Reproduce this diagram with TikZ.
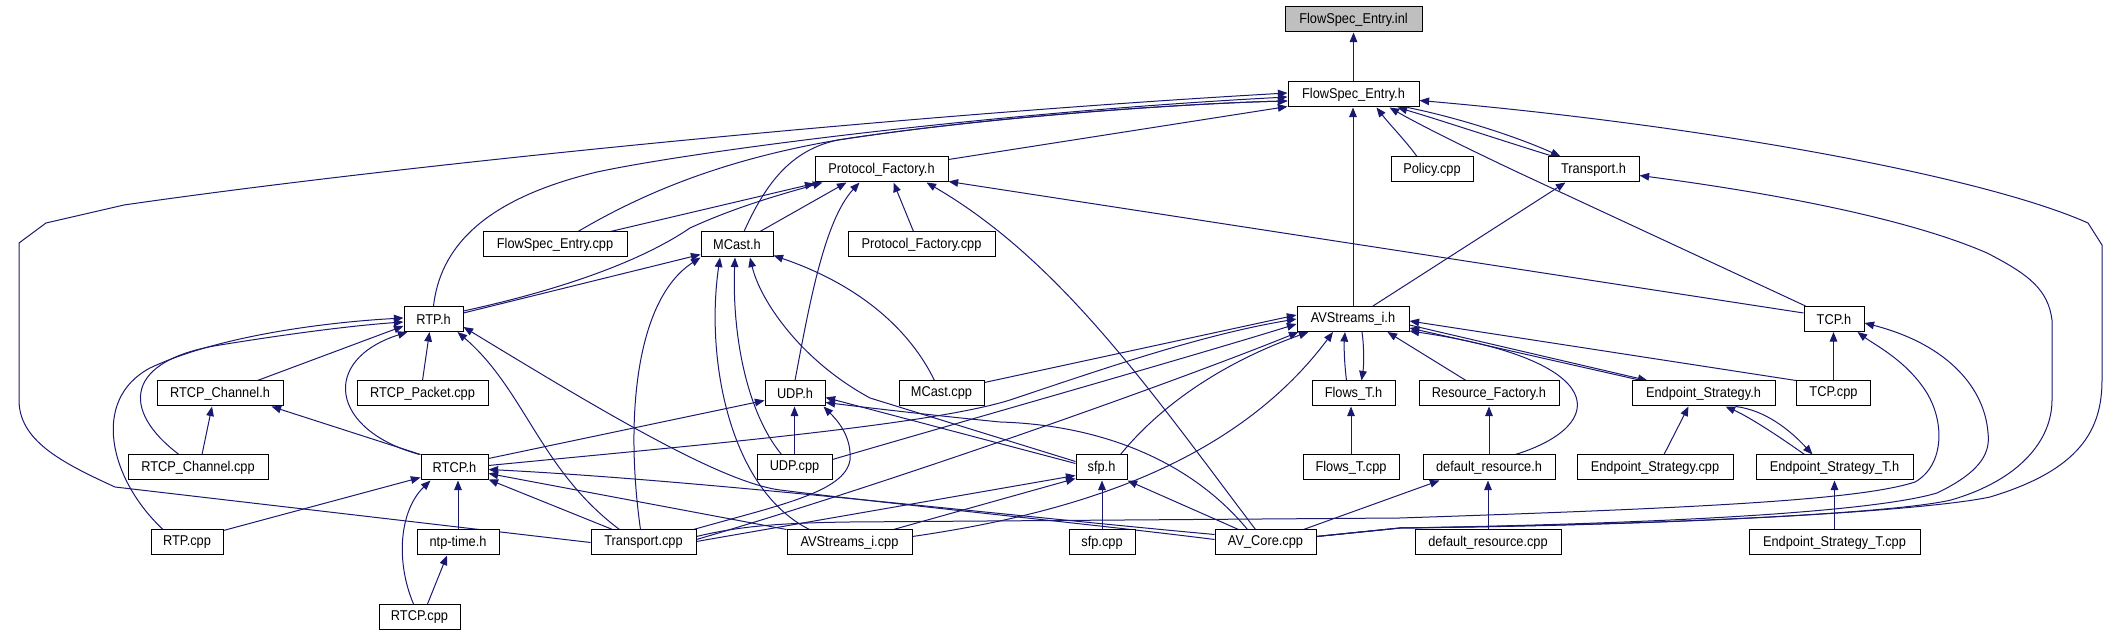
\documentclass[tikz,border=0pt]{standalone}
\usepackage{fontspec}
\setmainfont{Liberation Sans}[FakeStretch=0.9]
\usetikzlibrary{arrows.meta,calc}
\definecolor{edgeblue}{HTML}{191970}
\definecolor{rootgray}{HTML}{BFBFBF}
\pgfdeclarelayer{edgelayer}
\pgfsetlayers{edgelayer,main}
\tikzset{
  nbox/.style={draw=black, line width=0.5pt, fill=white, minimum height=12.5pt,
    minimum width=#1*0.5pt, inner sep=0pt, font=\fontsize{7.1pt}{8pt}\selectfont},
  dep/.style={draw=edgeblue, line width=0.5pt, -{Triangle[length=4.8pt,width=3.8pt]}},
}
\begin{document}
\begin{tikzpicture}[x=0.5pt,y=-0.5pt]
\useasboundingbox (0,0) rectangle (2121,635);
% ---------- nodes ----------
\node[nbox=137, fill=rootgray] (inl) at (1353.5,19.5) {FlowSpec\_Entry.inl};
\node[nbox=131] (fseh) at (1353.5,94.5) {FlowSpec\_Entry.h};
\node[nbox=133] (pfh) at (881.5,169.5) {Protocol\_Factory.h};
\node[nbox=82] (policy) at (1432,169.5) {Policy.cpp};
\node[nbox=91] (transh) at (1593.5,169.5) {Transport.h};
\node[nbox=144] (fsecpp) at (555,244.5) {FlowSpec\_Entry.cpp};
\node[nbox=72] (mcasth) at (737,244.5) {MCast.h};
\node[nbox=147] (pfcpp) at (921.5,244.5) {Protocol\_Factory.cpp};
\node[nbox=59] (rtph) at (433.5,319) {RTP.h};
\node[nbox=112] (avsih) at (1353,319) {AVStreams\_i.h};
\node[nbox=60] (tcph) at (1834,319) {TCP.h};
\node[nbox=126] (rtcpchh) at (220,393.5) {RTCP\_Channel.h};
\node[nbox=131] (rtcppkt) at (422.5,393.5) {RTCP\_Packet.cpp};
\node[nbox=60] (udph) at (795,393.5) {UDP.h};
\node[nbox=85] (mcastcpp) at (941.5,393.5) {MCast.cpp};
\node[nbox=83] (flowsh) at (1353.5,393.5) {Flows\_T.h};
\node[nbox=140] (resfh) at (1489,393.5) {Resource\_Factory.h};
\node[nbox=143] (esh) at (1703.5,393.5) {Endpoint\_Strategy.h};
\node[nbox=74] (tcpcpp) at (1833.5,393.5) {TCP.cpp};
\node[nbox=140] (rtcpchcpp) at (198,467.5) {RTCP\_Channel.cpp};
\node[nbox=67] (rtcph) at (454.5,467.5) {RTCP.h};
\node[nbox=75] (udpcpp) at (794.5,467.5) {UDP.cpp};
\node[nbox=51] (sfph) at (1101.5,467.5) {sfp.h};
\node[nbox=96] (flowscpp) at (1351,467.5) {Flows\_T.cpp};
\node[nbox=132] (drh) at (1489,467.5) {default\_resource.h};
\node[nbox=156] (escpp) at (1655,467.5) {Endpoint\_Strategy.cpp};
\node[nbox=157] (estah) at (1834.5,467.5) {Endpoint\_Strategy\_T.h};
\node[nbox=72] (rtpcpp) at (187,542.5) {RTP.cpp};
\node[nbox=82] (ntph) at (458,542.5) {ntp-time.h};
\node[nbox=105] (transcpp) at (643.5,542.5) {Transport.cpp};
\node[nbox=125] (avsicpp) at (849.5,542.5) {AVStreams\_i.cpp};
\node[nbox=66] (sfpcpp) at (1102,542.5) {sfp.cpp};
\node[nbox=101] (avcore) at (1265.5,542.5) {AV\_Core.cpp};
\node[nbox=146] (drcpp) at (1488,542.5) {default\_resource.cpp};
\node[nbox=171] (estcpp) at (1834.5,542.5) {Endpoint\_Strategy\_T.cpp};
\node[nbox=81] (rtcpcpp) at (419.5,617) {RTCP.cpp};
% ---------- edges ----------
\begin{pgfonlayer}{edgelayer}
% into FlowSpec_Entry.inl / .h
\draw[dep] (fseh.north) -- (fseh.north |- inl.south);
\draw[dep] (transcpp.west) -- (115,487) .. controls (60,462) and (19,440) .. (19,400) -- (19,243) -- (46,223) -- (124,205) .. controls (400,165) and (900,115) .. ($(fseh.west)+(0,-1.5)$);
\draw[dep] (rtph.north) .. controls (440,250) and (480,200) .. (597,172) .. controls (700,150) and (1000,112) .. ($(fseh.west)+(0,2.5)$);
\draw[dep] ($(fsecpp.north)+(23,0)$) .. controls (640,195) and (720,160) .. (838,140) .. controls (1000,115) and (1200,103) .. ($(fseh.west)+(0,6.5)$);
\draw[dep] ($(mcasth.north)+(7,0)$) .. controls (765,185) and (790,150) .. (838,140) .. controls (1000,115) and (1200,103) .. ($(fseh.west)+(0,6.5)$);
\draw[dep] ($(pfh.north east)+(0,3)$) -- ($(fseh.south west)+(0,-1)$);
\draw[dep] (avsih.north) -- (avsih.north |- fseh.south);
\draw[dep] ($(policy.north)+(-15,0)$) .. controls (1405,140) and (1390,125) .. ($(fseh.south)+(23,0)$);
\draw[dep] ($(transh.north)+(-40,0)$) .. controls (1500,140) and (1440,120) .. ($(fseh.south)+(44,0)$);
\draw[dep] ($(fseh.south)+(54,0)$) .. controls (1460,118) and (1520,138) .. ($(transh.north)+(-33,0)$);
\draw[dep] ($(tcph.north west)+(2,0)$) -- (1530,178) .. controls (1470,150) and (1420,125) .. ($(fseh.south)+(36,0)$);
\draw[dep] ($(avcore.east)+(0,-6)$) -- (1400,528) .. controls (1700,525) and (1930,510) .. (1990,497) .. controls (2080,470) and (2102,430) .. (2102,380) -- (2102,245) -- (2088,223) .. controls (1980,175) and (1700,125) .. ($(fseh.east)+(0,6)$);
% Transport.h, TCP.h from the right
\draw[dep] ($(avcore.east)+(0,-6)$) -- (1400,528) .. controls (1700,524) and (1900,512) .. (1951,500) .. controls (2020,480) and (2052,440) .. (2052,400) -- (2052,320) .. controls (2048,290) and (2030,275) .. (1987,253) .. controls (1900,215) and (1750,190) .. ($(transh.east)+(0,6)$);
\draw[dep] ($(avcore.east)+(0,-6)$) -- (1400,528) .. controls (1700,523) and (1880,510) .. (1937,493) .. controls (1985,470) and (1990,450) .. (1988,433) .. controls (1985,390) and (1950,345) .. ($(tcph.east)+(0,4)$);
\draw[dep] ($(transcpp.east)+(0,-6)$) .. controls (740,526) and (780,523) .. (850,522) -- (1400,518) .. controls (1700,508) and (1860,500) .. (1915,482) .. controls (1945,465) and (1945,420) .. (1925,390) .. controls (1905,360) and (1875,345) .. ($(tcph.south east)+(-7,0)$);
\draw[dep] ($(avsih.north)+(20,0)$) -- ($(transh.south)+(-28,0)$);
% Protocol_Factory.h
\draw[dep] ($(fsecpp.north east)+(-17,0)$) -- ($(pfh.south west)+(0,1)$);
\draw[dep] ($(rtph.east)+(0,-8)$) .. controls (560,290) and (640,262) .. (690,228) .. controls (740,205) and (790,192) .. ($(pfh.south west)+(8,0)$);
\draw[dep] ($(mcasth.north)+(23,0)$) -- ($(pfh.south west)+(32,0)$);
\draw[dep] (udph.north) .. controls (810,300) and (825,220) .. ($(pfh.south west)+(45,0)$);
\draw[dep] ($(pfcpp.north)+(-8,0)$) -- ($(pfh.south)+(12,0)$);
\draw[dep] ($(avcore.north)+(-10,0)$) .. controls (1150,390) and (1060,260) .. ($(pfh.south east)+(-22,0)$);
\draw[dep] ($(tcph.west)+(0,-6)$) -- ($(pfh.east)+(0,12)$);
% MCast.h
\draw[dep] ($(rtph.east)+(0,-6)$) -- ($(mcasth.south west)+(0,-3)$);
\draw[dep] ($(mcastcpp.north)+(-7,0)$) .. controls (910,330) and (860,285) .. ($(mcasth.south east)+(0,-2)$);
\draw[dep] ($(sfph.west)+(0,-6)$) -- (870,398) .. controls (800,360) and (760,300) .. ($(mcasth.south)+(13,0)$);
\draw[dep] ($(udpcpp.north west)+(25,0)$) .. controls (745,410) and (732,330) .. ($(mcasth.south)+(-2,0)$);
\draw[dep] ($(avsicpp.north)+(-40,0)$) .. controls (730,490) and (705,360) .. ($(mcasth.south)+(-17,0)$);
\draw[dep] ($(transcpp.north)+(-3,0)$) .. controls (625,420) and (635,300) .. (mcasth.south west);
% RTP.h
\draw[dep] ($(rtcpchh.north east)+(-26,0)$) -- ($(rtph.west)+(0,7)$);
\draw[dep] ($(rtcpchcpp.north)+(-19,0)$) .. controls (120,410) and (125,360) .. (220,345) .. controls (300,332) and (360,325) .. ($(rtph.west)+(0,3)$);
\draw[dep] ($(rtpcpp.north)+(-24,0)$) .. controls (110,480) and (90,400) .. (150,368) .. controls (220,335) and (330,322) .. ($(rtph.west)+(0,-1)$);
\draw[dep] ($(rtcph.north west)+(-1,0)$) .. controls (330,430) and (320,360) .. ($(rtph.south west)+(4,0)$);
\draw[dep] (rtcppkt.north) -- ($(rtph.south)+(-4,0)$);
\draw[dep] ($(transcpp.north)+(-24,0)$) .. controls (540,470) and (525,390) .. ($(rtph.south east)+(-6,0)$);
\draw[dep] ($(avcore.west)+(0,-3)$) .. controls (1100,525) and (900,505) .. (780,490) .. controls (720,482) and (600,410) .. ($(rtph.east)+(0,8)$);
% RTCP_Channel.h, RTCP.h, ntp-time.h
\draw[dep] (rtcph.north west) -- ($(rtcpchh.south east)+(-12,0)$);
\draw[dep] ($(rtcpchcpp.north)+(4,0)$) -- ($(rtcpchh.south)+(-8,0)$);
\draw[dep] ($(rtpcpp.north east)+(0,1)$) -- ($(rtcph.west)+(0,10)$);
\draw[dep] (ntph.north) -- (ntph.north |- rtcph.south);
\draw[dep] ($(rtcpcpp.north)+(-6,0)$) .. controls (395,560) and (400,510) .. ($(rtcph.south west)+(10,0)$);
\draw[dep] ($(rtcpcpp.north)+(8,0)$) -- ($(ntph.south)+(-11,0)$);
\draw[dep] ($(transcpp.north west)+(22,0)$) -- ($(rtcph.south east)+(0,-1)$);
\draw[dep] (avsicpp.north west) -- ($(rtcph.east)+(0,6)$);
\draw[dep] ($(avcore.west)+(0,-8)$) .. controls (1000,515) and (700,480) .. ($(rtcph.east)+(0,2)$);
% UDP.h
\draw[dep] ($(rtcph.east)+(0,-9)$) -- ($(udph.west)+(0,7)$);
\draw[dep] ($(transcpp.north east)+(-3,0)$) .. controls (780,505) and (845,492) .. (850,460) .. controls (852,435) and (835,418) .. ($(udph.south east)+(-2,0)$);
\draw[dep] (udpcpp.north) -- (udpcpp.north |- udph.south);
\draw[dep] ($(sfph.west)+(0,-4)$) -- ($(udph.east)+(0,4)$);
\draw[dep] ($(avcore.north)+(-18,0)$) .. controls (1190,460) and (1100,425) .. (1000,422) .. controls (930,415) and (870,408) .. ($(udph.east)+(0,9)$);
% AVStreams_i.h from the left and below
\draw[dep] ($(mcastcpp.east)+(0,-11)$) -- ($(avsih.west)+(0,-4)$);
\draw[dep] ($(rtcph.east)+(0,-2)$) .. controls (700,445) and (930,425) .. (1010,400) .. controls (1100,370) and (1200,335) .. (avsih.west);
\draw[dep] ($(udpcpp.east)+(0,-8)$) .. controls (950,425) and (1180,360) .. ($(avsih.west)+(0,5)$);
\draw[dep] ($(transcpp.east)+(0,-3)$) .. controls (900,480) and (1180,380) .. ($(avsih.south west)+(2,0)$);
\draw[dep] ($(sfph.north east)+(-7,0)$) .. controls (1165,400) and (1230,360) .. ($(avsih.south west)+(12,0)$);
\draw[dep] ($(avsicpp.east)+(0,-6)$) .. controls (1060,515) and (1230,470) .. ($(avsih.south)+(-20,0)$);
% sfp.h
\draw[dep] ($(transcpp.east)+(0,-1)$) -- ($(sfph.west)+(0,8)$);
\draw[dep] ($(avsicpp.north east)+(-19,0)$) -- ($(sfph.south west)+(0,-2)$);
\draw[dep] (sfpcpp.north) -- (sfpcpp.north |- sfph.south);
\draw[dep] ($(avcore.north)+(-27,0)$) -- (sfph.south east);
% AVStreams_i.h right side and Flows_T.h
\draw[dep] (tcpcpp.north west) -- ($(avsih.east)+(0,2)$);
\draw[dep] ($(avsih.east)+(0,6)$) -- ($(esh.north west)+(16,0)$);
\draw[dep] ($(esh.north west)+(10,0)$) -- ($(avsih.east)+(0,9)$);
\draw[dep] ($(drh.north east)+(-40,0)$) .. controls (1610,425) and (1610,360) .. ($(avsih.east)+(0,12)$);
\draw[dep] ($(resfh.north)+(-23,0)$) -- ($(avsih.south east)+(-22,0)$);
\draw[dep] ($(flowsh.north)+(-7,0)$) .. controls (1344,360) and (1344,345) .. ($(avsih.south)+(-8,0)$);
\draw[dep] ($(avsih.south)+(9,0)$) .. controls (1364,345) and (1364,365) .. ($(flowsh.north)+(8,0)$);
\draw[dep] (flowscpp.north) -- (flowscpp.north |- flowsh.south);
% Endpoint strategy, default resource, TCP
\draw[dep] ($(escpp.north)+(9,0)$) -- ($(esh.south)+(-15,0)$);
\draw[dep] ($(estah.north)+(-30,0)$) .. controls (1770,430) and (1745,415) .. ($(esh.south)+(22,0)$);
\draw[dep] ($(esh.south)+(32,0)$) .. controls (1765,410) and (1790,430) .. ($(estah.north)+(-22,0)$);
\draw[dep] (estcpp.north) -- (estcpp.north |- estah.south);
\draw[dep] (drh.north) -- (drh.north |- resfh.south);
\draw[dep] (drcpp.north) -- (drcpp.north |- drh.south);
\draw[dep] ($(avcore.north east)+(-13,0)$) -- ($(drh.south west)+(17,0)$);
\draw[dep] (tcpcpp.north) -- (tcpcpp.north |- tcph.south);
\end{pgfonlayer}
\end{tikzpicture}
\end{document}
